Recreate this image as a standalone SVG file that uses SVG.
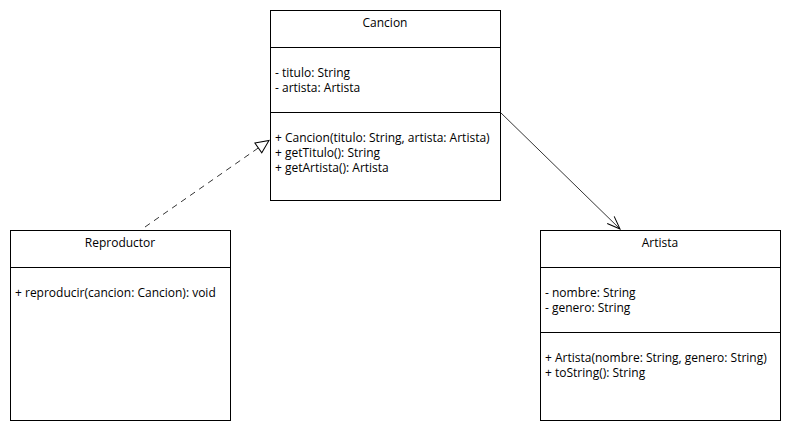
<svg xmlns="http://www.w3.org/2000/svg" width="790" height="430" viewBox="0 0 790 430">
<style>
rect{fill:#fff;stroke:#000;stroke-width:1}
.sep{stroke:#000;stroke-width:1}
text{font-family:"Open Sans","Noto Sans",sans-serif;font-size:12px;fill:#000}
.t{text-anchor:middle}
.c{fill:none;stroke:#000;stroke-width:0.8}
</style>
<defs>
<marker id="tri" markerWidth="16" markerHeight="16" refX="14" refY="7" orient="auto" markerUnits="userSpaceOnUse">
<path d="M1,1 L14,7 L1,13 Z" fill="#fff" stroke="#000" stroke-width="1"/>
</marker>
<marker id="open" markerWidth="16" markerHeight="16" refX="14" refY="6" orient="auto" markerUnits="userSpaceOnUse">
<path d="M1,1 L14,6 L1,11" fill="none" stroke="#000" stroke-width="1"/>
</marker>
</defs>
<g id="connectors">
<line class="c" x1="145" y1="227" x2="269" y2="140.5" stroke-dasharray="6,5" marker-end="url(#tri)"/>
<line class="c" x1="500" y1="112" x2="620" y2="229" marker-end="url(#open)"/>
</g>
<g id="Cancion">
<rect x="270.5" y="10.5" width="230" height="190"/>
<line class="sep" x1="270.5" y1="47.5" x2="500.5" y2="47.5"/>
<line class="sep" x1="270.5" y1="112.5" x2="500.5" y2="112.5"/>
<text class="t" x="385" y="27">Cancion</text>
<text x="275" y="77">- titulo: String</text>
<text x="275" y="92">- artista: Artista</text>
<text x="275" y="142">+ Cancion(titulo: String, artista: Artista)</text>
<text x="275" y="157">+ getTitulo(): String</text>
<text x="275" y="172">+ getArtista(): Artista</text>
</g>
<g id="Reproductor">
<rect x="10.5" y="230.5" width="220" height="190"/>
<line class="sep" x1="10.5" y1="267.5" x2="230.5" y2="267.5"/>
<text class="t" x="120" y="247">Reproductor</text>
<text x="15" y="297">+ reproducir(cancion: Cancion): void</text>
</g>
<g id="Artista">
<rect x="540.5" y="230.5" width="240" height="190"/>
<line class="sep" x1="540.5" y1="267.5" x2="780.5" y2="267.5"/>
<line class="sep" x1="540.5" y1="332.5" x2="780.5" y2="332.5"/>
<text class="t" x="660" y="247">Artista</text>
<text x="545" y="297">- nombre: String</text>
<text x="545" y="312">- genero: String</text>
<text x="545" y="362">+ Artista(nombre: String, genero: String)</text>
<text x="545" y="377">+ toString(): String</text>
</g>
</svg>
